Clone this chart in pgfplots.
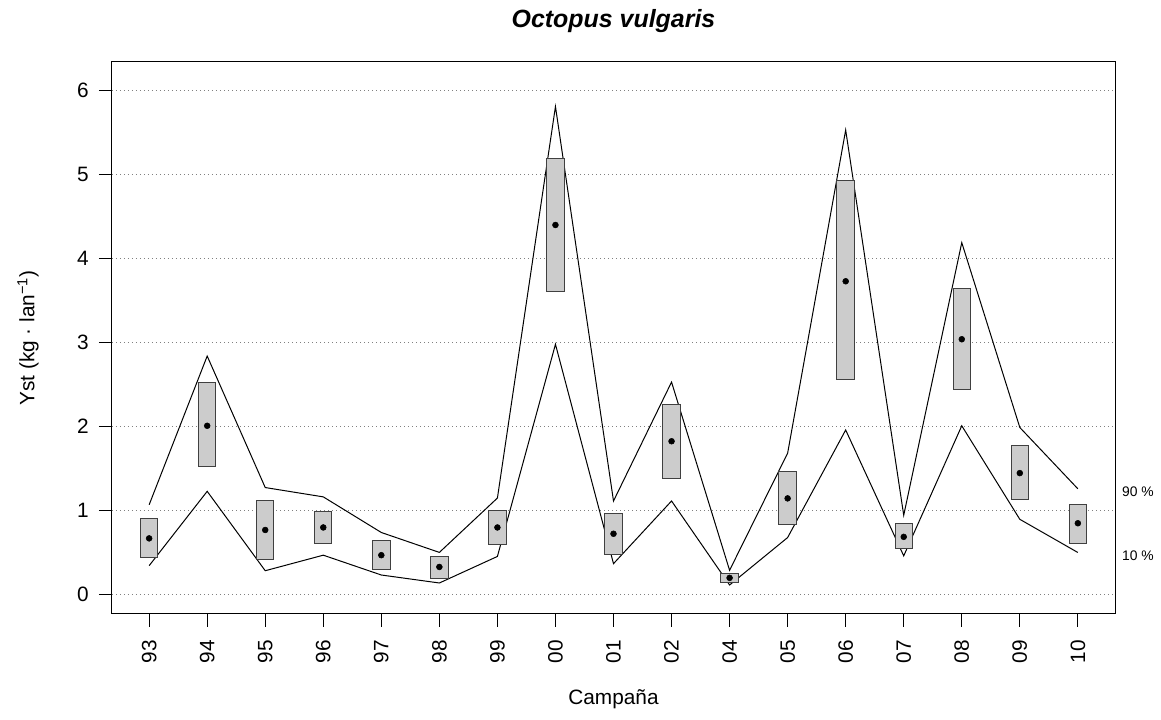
\documentclass[border=0pt]{standalone}
\usepackage{fontspec}
\setmainfont{Liberation Sans}
\usepackage{pgfplots}
\pgfplotsset{compat=1.18}
\usepackage{pgfplotstable}

% i: position, up/lo: 90 % and 10 % lines, blo/bhi: box, mid: point
\pgfplotstableread{
i  up    lo    blo   bhi   mid
0  1.07  0.345 0.44  0.91  0.67
1  2.84  1.23  1.52  2.52  2.01
2  1.275 0.285 0.42  1.117 0.77
3  1.164 0.47  0.614 0.99  0.80
4  0.74  0.234 0.297 0.64  0.47
5  0.503 0.139 0.19  0.45  0.33
6  1.15  0.455 0.598 1.006 0.80
7  5.81  2.98  3.61  5.19  4.40
8  1.115 0.369 0.475 0.963 0.725
9  2.53  1.115 1.384 2.266 1.826
10 0.29  0.115 0.142 0.253 0.20
11 1.684 0.68  0.834 1.466 1.146
12 5.53  1.96  2.556 4.925 3.73
13 0.945 0.462 0.55  0.85  0.688
14 4.19  2.01  2.444 3.64  3.04
15 1.99  0.897 1.134 1.779 1.447
16 1.26  0.502 0.613 1.071 0.85
}\octo

\definecolor{boxgray}{HTML}{CCCCCC}
\definecolor{gridgray}{HTML}{808080}

\begin{document}
\begin{tikzpicture}
\useasboundingbox (-84pt,-79.5pt) rectangle (786.75pt,460.5pt);
\begin{axis}[
  scale only axis,
  width=752.25pt, height=414pt,
  xmin=-0.64, xmax=16.64,
  ymin=-0.23, ymax=6.34,
  xtick={0,...,16},
  xticklabels={93,94,95,96,97,98,99,00,01,02,04,05,06,07,08,09,10},
  ytick={0,...,6},
  xtick pos=bottom, ytick pos=left,
  tick align=outside,
  major tick length=9.75pt,
  tick style={black, line width=0.75pt},
  axis line style={line width=0.75pt},
  ymajorgrids,
  grid style={gridgray, line width=0.75pt, dash pattern=on 0.9pt off 2.1pt},
  /pgf/number format/assume math mode=true,
  font=\fontsize{15.6}{18}\selectfont,
  ticklabel style={font=\fontsize{15.6}{18}\selectfont},
  xticklabel style={rotate=90, anchor=east, inner sep=0pt, xshift=-9.75pt},
  yticklabel style={anchor=east, inner sep=0pt, xshift=-7.5pt},
  title={Octopus vulgaris},
  title style={at={(0.5,1)}, anchor=base, yshift=19.5pt,
    font=\fontsize{18.7}{22}\selectfont\bfseries\itshape},
  xlabel={Campaña},
  xlabel style={at={(0.5,0)}, anchor=base, yshift=-68pt},
  ylabel={Yst (kg · lan\textsuperscript{−1})},
  ylabel style={at={(axis description cs:-0.0837,0.5)}, anchor=center},
  clip=false,
]
% 90 % and 10 % lines
\addplot[black, line width=0.75pt] table[x=i, y=up] {\octo};
\addplot[black, line width=0.75pt] table[x=i, y=lo] {\octo};
% boxes: invisible base bar, then grey bar from blo to bhi
\addplot[ybar stacked, bar width=0.3, bar shift=0pt, draw=none, fill=none]
  table[x=i, y=blo] {\octo};
\addplot[ybar stacked, bar width=0.3, bar shift=0pt, draw=black!75, fill=boxgray, line width=0.75pt]
  table[x=i, y expr=\thisrow{bhi}-\thisrow{blo}] {\octo};
% central points
\addplot[only marks, mark=*, mark size=2.2pt, black] table[x=i, y=mid] {\octo};
\node[anchor=west, font=\fontsize{10.4}{12}\selectfont] at (axis cs:16.68,1.22) {90 \%};
\node[anchor=west, font=\fontsize{10.4}{12}\selectfont] at (axis cs:16.68,0.46) {10 \%};
\end{axis}
\end{tikzpicture}
\end{document}
